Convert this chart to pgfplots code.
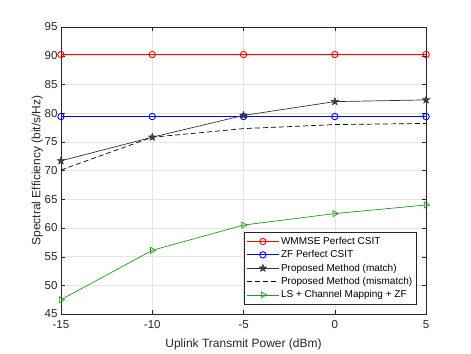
\documentclass[border=0pt]{standalone}
\usepackage{fontspec}
\setmainfont{Liberation Sans}
\usepackage{pgfplots}
\pgfplotsset{compat=1.18}
\definecolor{mgreen}{rgb}{0.13,0.6,0.13}
\definecolor{axgray}{rgb}{0.15,0.15,0.15}
% filled five-pointed star
\pgfdeclareplotmark{fstar}{%
  \pgfpathmoveto{\pgfqpointpolar{90}{\pgfplotmarksize}}%
  \pgfpathlineto{\pgfqpointpolar{126}{0.42\pgfplotmarksize}}%
  \pgfpathlineto{\pgfqpointpolar{162}{\pgfplotmarksize}}%
  \pgfpathlineto{\pgfqpointpolar{198}{0.42\pgfplotmarksize}}%
  \pgfpathlineto{\pgfqpointpolar{234}{\pgfplotmarksize}}%
  \pgfpathlineto{\pgfqpointpolar{270}{0.42\pgfplotmarksize}}%
  \pgfpathlineto{\pgfqpointpolar{306}{\pgfplotmarksize}}%
  \pgfpathlineto{\pgfqpointpolar{342}{0.42\pgfplotmarksize}}%
  \pgfpathlineto{\pgfqpointpolar{18}{\pgfplotmarksize}}%
  \pgfpathlineto{\pgfqpointpolar{54}{0.42\pgfplotmarksize}}%
  \pgfpathclose
  \pgfusepathqfillstroke}
\begin{document}
\begin{tikzpicture}
\begin{axis}[
    scale only axis, width=365pt, height=287pt,
    xmin=-15, xmax=5, ymin=45, ymax=95,
    xtick={-15,-10,-5,0,5}, ytick={45,50,...,95},
    tick align=inside, major tick length=4pt,
    xtick pos=both, ytick pos=both,
    axis line style={axgray, line width=0.5pt},
    tick style={axgray},
    grid=major, grid style={gray!20, line width=0.4pt},
    ticklabel style={font=\fontsize{11.5}{13}\selectfont, text=axgray},
    xticklabel style={yshift=-3pt},
    /pgf/number format/assume math mode=true,
    xlabel={Uplink Transmit Power (dBm)},
    ylabel={Spectral Efficiency (bit/s/Hz)},
    label style={font=\fontsize{12}{14}\selectfont, text=axgray},
    xlabel shift=3pt, ylabel shift=-5pt,
    legend style={at={(0.975,0.035)}, anchor=south east, font=\fontsize{10}{12}\selectfont,
        draw=axgray, line width=0.5pt, row sep=0.6pt, inner sep=2.5pt},
    legend cell align=left,
    legend image code/.code={
        \draw[mark repeat=2,mark phase=2,#1] plot coordinates {(0cm,0cm) (0.55cm,0cm) (1.1cm,0cm)};},
]
\addplot[red, line width=0.9pt, mark=o, mark size=3.2pt] coordinates {(-15,90.2)(-10,90.2)(-5,90.2)(0,90.2)(5,90.2)};
\addlegendentry{WMMSE Perfect CSIT}
\addplot[blue, line width=0.9pt, mark=o, mark size=3.2pt] coordinates {(-15,79.4)(-10,79.4)(-5,79.4)(0,79.4)(5,79.4)};
\addlegendentry{ZF Perfect CSIT}
\addplot[black!80, line width=0.7pt, mark=fstar, mark options={fill=black!75, draw=black!80, solid, line width=0.4pt}, mark size=4pt] coordinates {(-15,71.7)(-10,75.8)(-5,79.6)(0,82.0)(5,82.3)};
\addlegendentry{Proposed Method (match)}
\addplot[black, line width=0.7pt, dash pattern=on 5pt off 3pt] coordinates {(-15,70.1)(-10,75.8)(-5,77.3)(0,78.0)(5,78.2)};
\addlegendentry{Proposed Method (mismatch)}
\addplot[mgreen, line width=0.7pt, mark=triangle, mark options={rotate=-90}, mark size=3.5pt] coordinates {(-15,47.5)(-10,56.1)(-5,60.5)(0,62.5)(5,64.0)};
\addlegendentry{LS + Channel Mapping + ZF}
\coordinate (bbA) at (rel axis cs:-0.167,-0.136);
\coordinate (bbB) at (rel axis cs:1.123,1.094);
\end{axis}
\path (bbA) rectangle (bbB);
\end{tikzpicture}
\end{document}
